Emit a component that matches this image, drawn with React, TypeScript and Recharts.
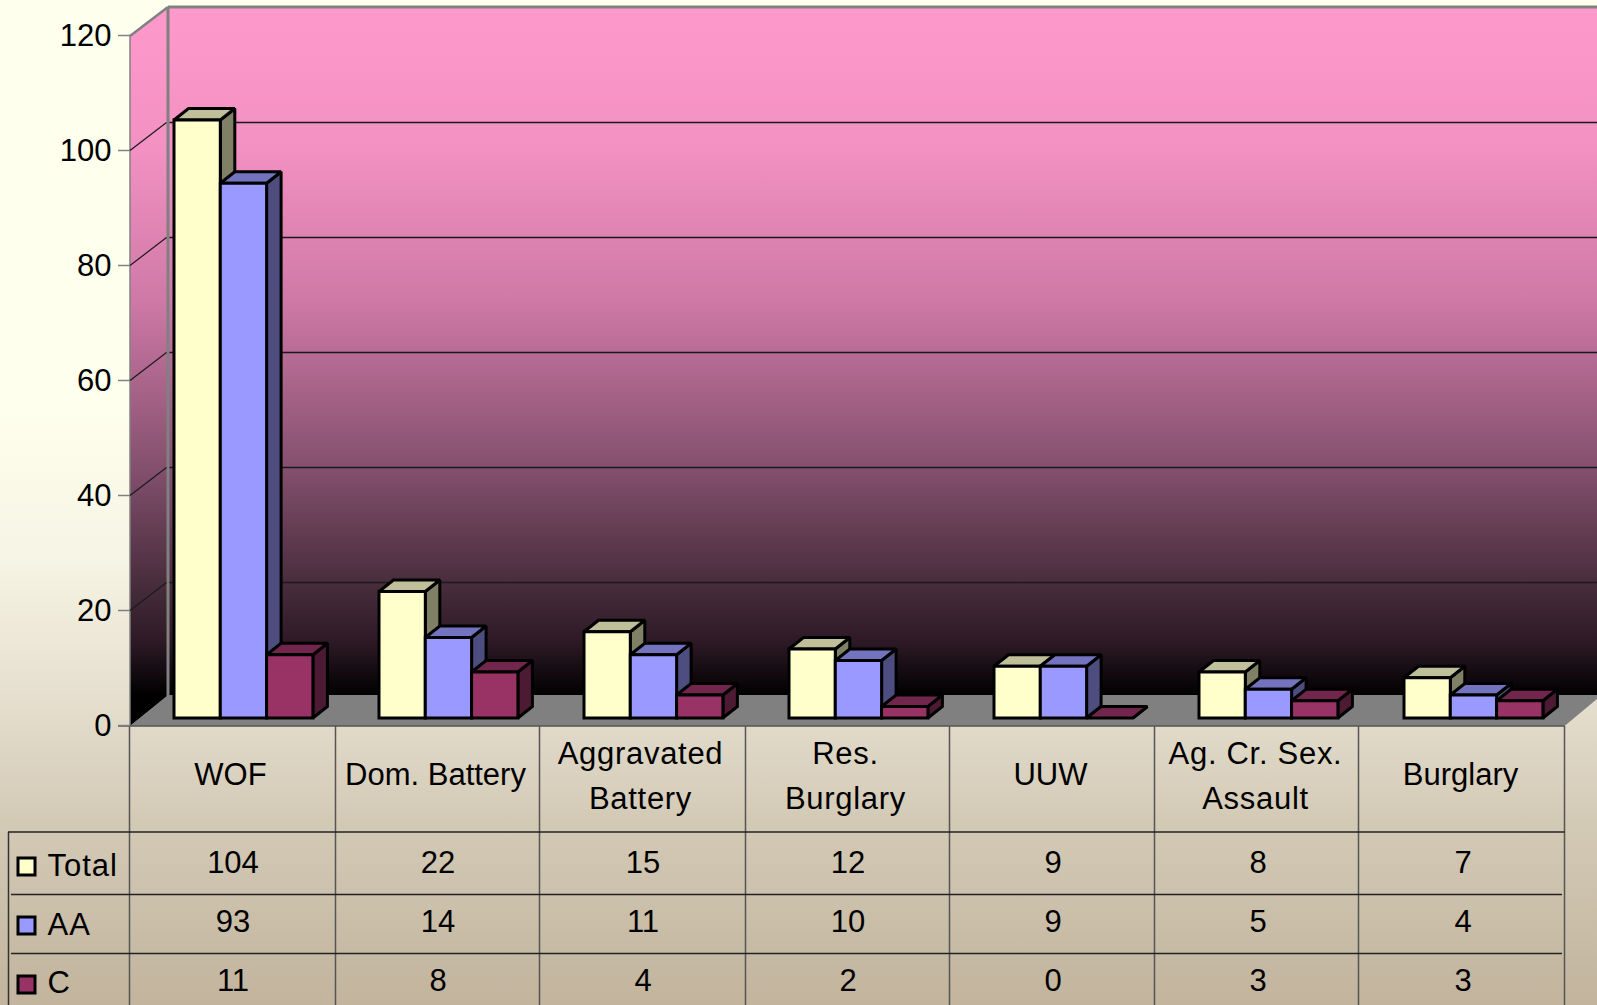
import { BarChart, Bar, XAxis, YAxis, CartesianGrid } from 'recharts'

const categories = ['WOF', 'Dom. Battery', 'Aggravated\nBattery', 'Res.\nBurglary', 'UUW', 'Ag. Cr. Sex.\nAssault', 'Burglary']
const totalValues = [104, 22, 15, 12, 9, 8, 7]
const aaValues = [93, 14, 11, 10, 9, 5, 4]
const cValues = [11, 8, 4, 2, 0, 3, 3]
const yTicks = [0, 20, 40, 60, 80, 100, 120]

const seriesInfo = [
  { key: 'Total', values: totalValues, front: '#FFFFCC', top: '#BFBF99', side: '#808066' },
  { key: 'AA', values: aaValues, front: '#9999FF', top: '#7373BF', side: '#4D4D80' },
  { key: 'C', values: cValues, front: '#993366', top: '#73264D', side: '#4D1A33' },
]

const chartData = categories.map((name, i) => ({
  name,
  Total: totalValues[i],
  AA: aaValues[i],
  C: cValues[i],
}))

const WIDTH = 1597
const HEIGHT = 1005
const FONT = '"Liberation Sans", Arial, sans-serif'
const FONT_SIZE = 31

// the plot sits on the bars' baseline, the 3D box around it is offset from there
const AXIS_X = 130
const WALL_X = 168
const FRONT_SHIFT = 7.5
const BACK_SHIFT = -20.5
const DEPTH_X = 14.5
const DEPTH_Y = 11.5

const columnLines = [129.5, 335.5, 539.5, 745.5, 949.5, 1154.5, 1358.5, 1564.5]
const rowY = [832, 894.5, 953.5]
const rowKeyTop = [858, 917, 976]
const rowLabelY = [876, 935, 993]
const rowValueY = [873, 932, 991]

function Box3D(props: any) {
  const { x, y, width, height, front, top, side } = props
  const r = x + width
  const b = y + height
  return (
    <g stroke="#000" strokeWidth={3} strokeLinejoin="miter" strokeMiterlimit={2}>
      <polygon points={`${r},${y} ${r + DEPTH_X},${y - DEPTH_Y} ${r + DEPTH_X},${b - DEPTH_Y} ${r},${b}`} fill={side} />
      <polygon points={`${x},${y} ${x + DEPTH_X},${y - DEPTH_Y} ${r + DEPTH_X},${y - DEPTH_Y} ${r},${y}`} fill={top} />
      {height > 0 && <rect x={x} y={y} width={width} height={height} fill={front} />}
    </g>
  )
}

function YTick(props: any) {
  const { y, payload } = props
  const fy = y + FRONT_SHIFT
  return (
    <g>
      <line x1={118} x2={AXIS_X} y1={fy} y2={fy} stroke="#808080" strokeWidth={1.5} />
      <text x={111.5} y={fy + 10.5} textAnchor="end" fontFamily={FONT} fontSize={FONT_SIZE} fill="#000">
        {payload.value}
      </text>
    </g>
  )
}

function CategoryTick(props: any) {
  const { x, payload, index } = props
  const lines = String(payload.value).split('\n')
  const firstY = lines.length > 1 ? 764 : 785
  return (
    <g fontFamily={FONT} fontSize={FONT_SIZE} fill="#000" textAnchor="middle">
      {lines.map((line, i) => (
        <text key={line} x={x - 13} y={firstY + i * 44.5} letterSpacing={lines.length > 1 ? 0.7 : 0}>
          {line}
        </text>
      ))}
      {seriesInfo.map((s, i) => (
        <text key={s.key} x={x - 10.5} y={rowValueY[i]}>
          {s.values[index]}
        </text>
      ))}
    </g>
  )
}

function gridLine(props: any) {
  const { y1, index } = props
  if (y1 >= 717 || y1 <= 29) return <g key={index} />
  return (
    <g key={index} stroke="#1a1a1a" strokeWidth={1.5}>
      <line x1={AXIS_X} y1={y1 + FRONT_SHIFT} x2={WALL_X - 1.5} y2={y1 + BACK_SHIFT} strokeWidth={1.2} />
      <line x1={WALL_X + 1.5} y1={y1 + BACK_SHIFT} x2={WIDTH} y2={y1 + BACK_SHIFT} />
    </g>
  )
}

function Backdrop() {
  return (
    <svg width={WIDTH} height={HEIGHT} style={{ position: 'absolute', left: 0, top: 0 }}>
      <defs>
        <linearGradient id="wall" gradientUnits="userSpaceOnUse" x1={0} y1={7} x2={0} y2={696}>
          <stop offset="0" stopColor="#FF99CC" />
          <stop offset="0.207" stopColor="#F291C2" />
          <stop offset="0.425" stopColor="#CF79A7" />
          <stop offset="0.668" stopColor="#84506E" />
          <stop offset="0.861" stopColor="#402835" />
          <stop offset="0.919" stopColor="#2E1A26" />
          <stop offset="1" stopColor="#000000" />
        </linearGradient>
      </defs>
      <polygon points={`${AXIS_X},36 ${WALL_X},7 ${WALL_X},696 ${AXIS_X},726`} fill="url(#wall)" />
      <rect x={WALL_X} y={7} width={WIDTH - WALL_X} height={689} fill="url(#wall)" />
      <polygon points={`${AXIS_X},726 ${WALL_X},695 ${WIDTH},695 ${WIDTH},699 1564.5,726`} fill="#808080" />
      <line x1={AXIS_X} y1={36} x2={AXIS_X} y2={726} stroke="#808080" strokeWidth={1.5} />
      <line x1={AXIS_X} y1={36} x2={WALL_X} y2={7} stroke="#808080" strokeWidth={2.5} />
      <line x1={WALL_X} y1={7} x2={WALL_X} y2={696} stroke="#808080" strokeWidth={3} />
      <line x1={WALL_X} y1={7} x2={WIDTH} y2={7} stroke="#808080" strokeWidth={3} />
      <line x1={118} y1={726} x2={1564.5} y2={726} stroke="#555" strokeWidth={1.5} />

      {columnLines.map((x) => (
        <line key={x} x1={x} y1={726} x2={x} y2={HEIGHT} stroke="#555" strokeWidth={1.5} />
      ))}
      <line x1={8.5} y1={rowY[0]} x2={8.5} y2={HEIGHT} stroke="#333" strokeWidth={1.5} />
      <line x1={8} y1={rowY[0]} x2={1564.5} y2={rowY[0]} stroke="#222" strokeWidth={1.5} />
      <line x1={11} y1={rowY[1]} x2={1562} y2={rowY[1]} stroke="#222" strokeWidth={1.5} />
      <line x1={11} y1={rowY[2]} x2={1562} y2={rowY[2]} stroke="#222" strokeWidth={1.5} />

      {seriesInfo.map((s, i) => (
        <g key={s.key}>
          <rect x={18} y={rowKeyTop[i]} width={17} height={17} fill={s.front} stroke="#000" strokeWidth={3} />
          <text x={47.5} y={rowLabelY[i]} fontFamily={FONT} fontSize={FONT_SIZE} letterSpacing={1} fill="#000">
            {s.key}
          </text>
        </g>
      ))}
    </svg>
  )
}

export default function App() {
  return (
    <div
      style={{
        position: 'absolute',
        left: 0,
        top: 0,
        width: WIDTH,
        height: HEIGHT,
        overflow: 'hidden',
        background:
          'linear-gradient(180deg, #FFFFEE 0%, #FFFFEE 40%, #F6F4E4 55.7%, #E6DFCF 69.4%, #D3CAB6 81.6%, #C2B49D 100%)',
      }}
    >
      <Backdrop />
      <div style={{ position: 'absolute', left: 0, top: 0 }}>
        <BarChart
          width={WIDTH}
          height={HEIGHT}
          data={chartData}
          margin={{ top: 28, right: 21, left: 0, bottom: 257 }}
          barSize={46.3}
          barGap={0}
          style={{ overflow: 'visible' }}
        >
          <CartesianGrid vertical={false} horizontal={gridLine} stroke="#1a1a1a" />
          <XAxis dataKey="name" interval={0} height={30} axisLine={false} tickLine={false} tick={<CategoryTick />} />
          <YAxis
            width={141}
            domain={[0, 120]}
            ticks={yTicks}
            interval={0}
            axisLine={false}
            tickLine={false}
            tick={<YTick />}
          />
          {seriesInfo.map((s) => (
            <Bar
              key={s.key}
              dataKey={s.key}
              isAnimationActive={false}
              shape={(p: any) => <Box3D {...p} front={s.front} top={s.top} side={s.side} />}
            />
          ))}
        </BarChart>
      </div>
    </div>
  )
}
